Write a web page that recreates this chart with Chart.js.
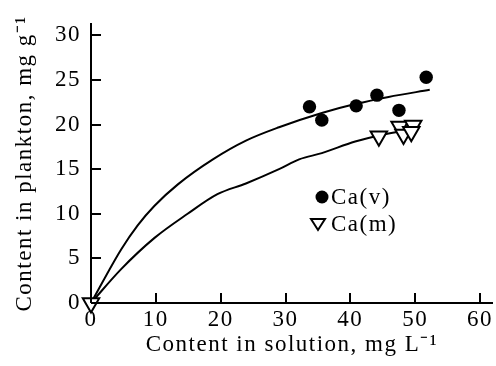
<!DOCTYPE html>
<html>
<head>
<meta charset="utf-8">
<script src="https://cdn.jsdelivr.net/npm/chart.js@4/dist/chart.umd.min.js"></script>
<style>
    html, body { margin: 0; padding: 0; background: #fff; }
    #wrap { width: 496px; height: 366px; }
</style>
</head>
<body>
<div id="wrap"><canvas id="chart"></canvas></div>
<script>
// Puntos medidos
const caVx = [33.7, 35.6, 40.9, 44.1, 47.5, 51.7];
const caVy = [22.0, 20.5, 22.1, 23.3, 21.6, 25.3];
const caMx = [0, 44.4, 47.6, 49.7, 48.2, 49.4];
const caMy = [0, 18.7, 19.8, 19.9, 18.9, 19.2];

// Curvas ajustadas
const fitVx = [0, 4.65, 7.2, 9.8, 13.4, 18.8, 23.9, 29, 35.6, 40.75, 45.9, 52.25];
const fitVy = [0, 6.0, 8.7, 10.9, 13.3, 16.1, 18.2, 19.7, 21.3, 22.3, 23.1, 23.9];
const fitMx = [0, 4.65, 9.8, 14.9, 19.5, 23.9, 29, 32.1, 35.6, 40.75, 45.9, 48.2];
const fitMy = [0, 3.8, 7.3, 10.0, 12.2, 13.4, 15.0, 16.1, 16.8, 18.1, 19.0, 19.3];

const xTicks = [0, 10, 20, 30, 40, 50, 60];
const yTicks = [0, 5, 10, 15, 20, 25, 30];

const FONT = "'Liberation Serif', 'Times New Roman', serif";
const SIZE = 23;
const SPACING = '1.5px';

function pts(xs, ys) {
    return xs.map((x, i) => ({ x: x, y: ys[i] }));
}

// El texto del original es más ancho que Times: se separan un poco las letras
const spacing = {
    id: 'spacing',
    beforeLayout(chart) { chart.ctx.letterSpacing = SPACING; },
    beforeDraw(chart) { chart.ctx.letterSpacing = SPACING; }
};

// Marcas de escala hacia adentro
const innerTicks = {
    id: 'innerTicks',
    afterDraw(chart) {
        const ctx = chart.ctx;
        const xs = chart.scales.x, ys = chart.scales.y;
        const area = chart.chartArea;
        ctx.save();
        ctx.strokeStyle = '#000';
        ctx.lineWidth = 2;
        xTicks.forEach(v => {
            const px = Math.round(xs.getPixelForValue(v));
            ctx.beginPath();
            ctx.moveTo(px, area.bottom);
            ctx.lineTo(px, area.bottom - 10);
            ctx.stroke();
        });
        yTicks.forEach(v => {
            const py = Math.round(ys.getPixelForValue(v));
            ctx.beginPath();
            ctx.moveTo(area.left, py);
            ctx.lineTo(area.left + 10, py);
            ctx.stroke();
        });
        ctx.restore();
    }
};

// Leyenda dentro del área
const innerLegend = {
    id: 'innerLegend',
    afterDraw(chart) {
        const ctx = chart.ctx;
        ctx.save();
        ctx.fillStyle = '#000';
        ctx.strokeStyle = '#000';
        ctx.lineWidth = 2;
        ctx.beginPath();
        ctx.arc(322, 197, 6.5, 0, Math.PI * 2);
        ctx.fill();
        ctx.beginPath();
        ctx.moveTo(311, 219);
        ctx.lineTo(325, 219);
        ctx.lineTo(318, 230);
        ctx.closePath();
        ctx.stroke();
        ctx.font = SIZE + 'px ' + FONT;
        ctx.letterSpacing = SPACING;
        ctx.textBaseline = 'alphabetic';
        ctx.fillText('Ca(v)', 331, 204);
        ctx.fillText('Ca(m)', 331, 231);
        ctx.restore();
    }
};

new Chart(document.getElementById('chart'), {
    type: 'scatter',
    data: {
        datasets: [
            {
                label: 'Ca(v)',
                data: pts(caVx, caVy),
                pointStyle: 'circle',
                pointRadius: 6.7,
                backgroundColor: '#000',
                borderColor: '#000',
                borderWidth: 0,
                clip: false,
                order: 1
            },
            {
                label: 'Ca(m)',
                data: pts(caMx, caMy),
                pointStyle: 'triangle',
                rotation: 180,
                pointRadius: 9.5,
                backgroundColor: '#fff',
                borderColor: '#000',
                borderWidth: 2,
                clip: false,
                order: 0
            },
            {
                type: 'line',
                label: 'fit v',
                data: pts(fitVx, fitVy),
                borderColor: '#000',
                borderWidth: 2,
                pointRadius: 0,
                cubicInterpolationMode: 'monotone',
                fill: false,
                order: 2
            },
            {
                type: 'line',
                label: 'fit m',
                data: pts(fitMx, fitMy),
                borderColor: '#000',
                borderWidth: 2,
                pointRadius: 0,
                cubicInterpolationMode: 'monotone',
                fill: false,
                order: 2
            }
        ]
    },
    options: {
        responsive: true,
        maintainAspectRatio: false,
        animation: false,
        layout: { autoPadding: false, padding: { top: 12, right: 0, left: 0, bottom: 0 } },
        plugins: {
            legend: { display: false },
            tooltip: { enabled: false }
        },
        scales: {
            x: {
                type: 'linear',
                min: 0,
                max: 62,
                afterFit(scale) { scale.height = 63; },
                afterBuildTicks(scale) { scale.ticks = xTicks.map(v => ({ value: v })); },
                grid: { display: true, drawOnChartArea: false, drawTicks: false },
                border: { display: true, color: '#000', width: 2 },
                ticks: {
                    color: '#000',
                    padding: 3,
                    font: { family: FONT, size: SIZE }
                },
                title: {
                    display: true,
                    text: 'Content in solution, mg L⁻¹',
                    color: '#000',
                    padding: 7.5,
                    font: { family: FONT, size: SIZE }
                }
            },
            y: {
                type: 'linear',
                min: 0,
                max: 31.3,
                afterFit(scale) { scale.width = 91; },
                afterBuildTicks(scale) { scale.ticks = yTicks.map(v => ({ value: v })); },
                grid: { display: true, drawOnChartArea: false, drawTicks: false },
                border: { display: true, color: '#000', width: 2 },
                ticks: {
                    color: '#000',
                    padding: 10,
                    font: { family: FONT, size: SIZE }
                },
                title: {
                    display: true,
                    text: 'Content in plankton, mg g⁻¹',
                    color: '#000',
                    padding: 11,
                    font: { family: FONT, size: SIZE }
                }
            }
        }
    },
    plugins: [spacing, innerTicks, innerLegend]
});
</script>
</body>
</html>
